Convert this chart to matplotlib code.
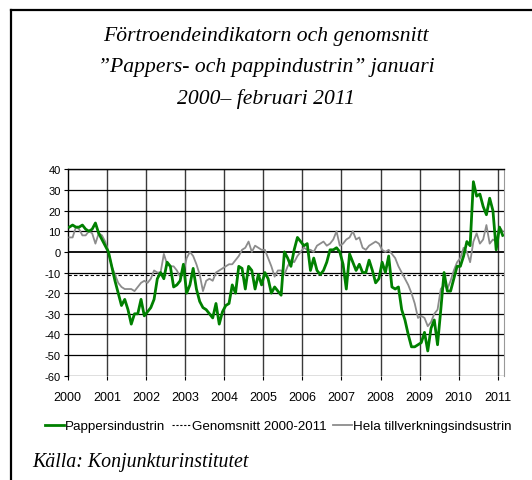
import numpy as np
import matplotlib
matplotlib.use('Agg')
import matplotlib.pyplot as plt
from matplotlib.lines import Line2D

# Monthly values, Jan 2000 - Feb 2011 (one row per year)
pappers = [12, 13, 12, 12, 13, 11, 10, 11, 14, 9, 6, 3,
           0, -7, -14, -20, -26, -23, -28, -35, -30, -30, -23, -31,
           -29, -27, -23, -13, -10, -13, -5, -7, -17, -16, -14, -6,
           -20, -16, -8, -18, -24, -27, -28, -30, -32, -25, -35, -29,
           -26, -25, -16, -20, -7, -8, -18, -7, -9, -18, -11, -16,
           -10, -13, -20, -17, -19, -21, 0, -3, -7, 1, 7, 5,
           3, 4, -9, -3, -9, -11, -9, -5, 1, 1, 2, 0,
           -6, -18, -1, -5, -9, -6, -10, -10, -4, -9, -15, -13,
           -5, -10, -2, -17, -18, -17, -28, -33, -40, -46, -46, -45,
           -44, -39, -48, -37, -33, -45, -28, -10, -19, -19, -13, -7,
           -7, -2, 5, 3, 34, 27, 28, 22, 18, 26, 20, 1,
           12, 8]

hela = [7, 7, 12, 11, 8, 8, 10, 9, 4, 9, 8, 5,
        0, -7, -11, -15, -17, -18, -18, -18, -19, -17, -15, -14,
        -15, -13, -9, -10, -10, -1, -6, -7, -7, -9, -12, -10,
        -3, 0, -2, -6, -11, -19, -14, -13, -14, -10, -9, -8,
        -7, -6, -6, -4, -2, 1, 2, 5, 0, 3, 2, 1,
        1, -3, -7, -12, -9, -9, -11, -7, -4, -5, -2, 0,
        2, 1, 1, 0, 3, 4, 5, 3, 4, 6, 10, 3,
        4, 6, 7, 10, 6, 7, 2, 1, 3, 4, 5, 4,
        1, 0, 1, -1, -3, -7, -10, -13, -16, -20, -25, -32,
        -31, -32, -36, -34, -30, -28, -18, -16, -18, -14, -9, -5,
        -3, 2, 0, -5, 5, 9, 4, 6, 13, 4, 6, 5,
        12, 10]

genomsnitt = -11
years = [str(y) for y in range(2000, 2012)]
yticks = list(range(-60, 41, 10))

title = u'F\u00f6rtroendeindikatorn och genomsnitt\n\u201dPappers- och pappindustrin\u201d januari\n2000\u2013 februari 2011'
source = u'K\u00e4lla: Konjunkturinstitutet'

n = len(pappers)
x = np.arange(n) + 0.5

fig = plt.figure(figsize=(5.32, 4.81), dpi=100)
ax = fig.add_axes([0.1273, 0.2168, 0.8207, 0.4291])

# grid
for k in range(1, len(years)):
    ax.axvline(12 * k, color='#3a3a3a', lw=1.0, zorder=1)
for v in yticks:
    ax.axhline(v, color='black', lw=0.9 if v != 0 else 1.3, zorder=1)

ax.plot(x, hela, color='#8c8c8c', lw=1.3, zorder=3)
ax.axhline(genomsnitt, color='black', lw=0.8, ls=(0, (3, 2)), zorder=2)
ax.plot(x, pappers, color='#008000', lw=2.0, zorder=4)

ax.set_xlim(0, n)
ax.set_ylim(-60, 40)
ax.set_xticks([12 * k for k in range(len(years))])
ax.set_xticklabels(years, fontsize=9, family='Liberation Sans')
ax.set_yticks(yticks)
ax.set_yticklabels([str(v) for v in yticks], fontsize=8, family='Liberation Sans')
ax.tick_params(axis='both', length=3, width=0.8, color='black', pad=2)
ax.tick_params(axis='x', pad=8)
ax.spines['bottom'].set_visible(False)
ax.spines['right'].set_color('#999999')
for s in ['left', 'top']:
    ax.spines[s].set_linewidth(1.0)

handles = [Line2D([], [], color='#008000', lw=2.0),
           Line2D([], [], color='black', lw=0.8, ls=(0, (2, 1.5))),
           Line2D([], [], color='#8c8c8c', lw=1.3)]
labels = ['Pappersindustrin', 'Genomsnitt 2000-2011', 'Hela tillverkningsindsustrin']
fig.legend(handles, labels, loc='center', bbox_to_anchor=(0.523, 1 - 427 / 481), ncol=3,
           frameon=False, handlelength=1.4, handletextpad=0.1, columnspacing=0.5,
           prop={'family': 'Liberation Sans', 'size': 9.6})

fig.text(0.5, 1 - 68 / 481, title, ha='center', va='center', fontsize=15.6,
         family='Liberation Serif', style='italic', linespacing=1.85)
fig.text(32 / 532, 1 - 462 / 481, source, ha='left', va='center', fontsize=14.3,
         family='Liberation Serif', style='italic')

# outer frame (left and top)
fig.add_artist(Line2D([11 / 532, 11 / 532], [0, 1 - 11 / 481], transform=fig.transFigure,
                      color='black', lw=1.6))
fig.add_artist(Line2D([11 / 532, 1], [1 - 11 / 481, 1 - 11 / 481], transform=fig.transFigure,
                      color='black', lw=1.6))

fig.savefig('out.png', dpi=100)
